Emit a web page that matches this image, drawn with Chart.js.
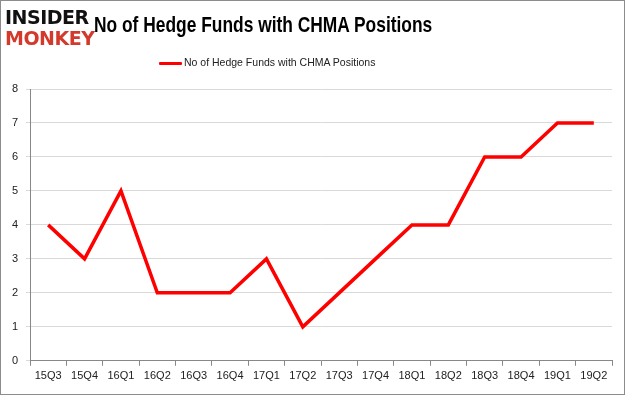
<!DOCTYPE html>
<html>
<head>
<meta charset="utf-8">
<script src="https://cdn.jsdelivr.net/npm/chart.js@4.4.1/dist/chart.umd.min.js"></script>
<style>
  body { margin: 0; background: #fff; }
  #frame { position: relative; width: 623px; height: 393px; border: 1px solid #8c8c8c; overflow: hidden; }
  #logo { position: absolute; left: 4px; top: 6px; font-family: "DejaVu Sans", sans-serif; font-weight: bold; line-height: 21px; letter-spacing: -0.5px; }
  #logo .a { color: #111; font-size: 19px; }
  #logo .b { color: #d33a2c; font-size: 19px; }
  #title { position: absolute; left: 93px; top: 11px; font-family: "Liberation Sans", sans-serif; font-weight: bold; font-size: 22px; color: #000; transform: scaleX(0.79); transform-origin: left top; white-space: nowrap; }
  #legend { position: absolute; left: 158px; top: 55px; font-family: "Liberation Sans", sans-serif; font-size: 10.5px; color: #222; white-space: nowrap; }
  #legend span.swatch { display: inline-block; width: 23px; height: 3px; background: #ff0000; vertical-align: middle; margin-right: 2px; border-radius: 1px; }
  #wrap { position: absolute; left: 0; top: 0; width: 623px; height: 393px; }
</style>
</head>
<body>
<div id="frame">
  <div id="wrap"><canvas id="chart"></canvas></div>
  <div id="logo"><div class="a">INSIDER</div><div class="b">MONKEY</div></div>
  <div id="title">No of Hedge Funds with CHMA Positions</div>
  <div id="legend"><span class="swatch"></span><span id="legendText"></span></div>
</div>
<script>
// ---- Data ----
const quarters = ["15Q3", "15Q4", "16Q1", "16Q2", "16Q3", "16Q4", "17Q1", "17Q2",
                  "17Q3", "17Q4", "18Q1", "18Q2", "18Q3", "18Q4", "19Q1", "19Q2"];
const fundCounts = [4, 3, 5, 2, 2, 2, 3, 1, 2, 3, 4, 4, 6, 6, 7, 7];
const seriesName = "No of Hedge Funds with CHMA Positions";

document.getElementById("legendText").textContent = seriesName;

// ---- Chart ----
const ctx = document.getElementById("chart").getContext("2d");
new Chart(ctx, {
  type: "line",
  data: {
    labels: quarters,
    datasets: [{
      label: seriesName,
      data: fundCounts,
      borderColor: "#ff0000",
      backgroundColor: "#ff0000",
      borderWidth: 3.5,
      pointRadius: 0,
      tension: 0,
    }],
  },
  options: {
    responsive: true,
    maintainAspectRatio: false,
    animation: false,
    layout: { padding: { top: 88, right: 12, left: 0, bottom: 7 } },
    plugins: {
      tooltip: { enabled: false },
      legend: { display: false },
    },
    scales: {
      x: {
        offset: true,
        grid: { offset: true, drawOnChartArea: false, tickLength: 5, color: "#888" },
        border: { color: "#888" },
        ticks: { color: "#222", font: { family: "Liberation Sans", size: 11 }, maxRotation: 0, padding: 4 },
      },
      y: {
        min: 0,
        max: 8,
        ticks: { stepSize: 1, color: "#222", font: { family: "Liberation Sans", size: 11 }, padding: 8 },
        grid: { color: "#d9d9d9", tickLength: 4 },
        border: { color: "#888" },
        afterFit: (scale) => { scale.width = 29; },
      },
    },
  },
});
</script>
</body>
</html>
